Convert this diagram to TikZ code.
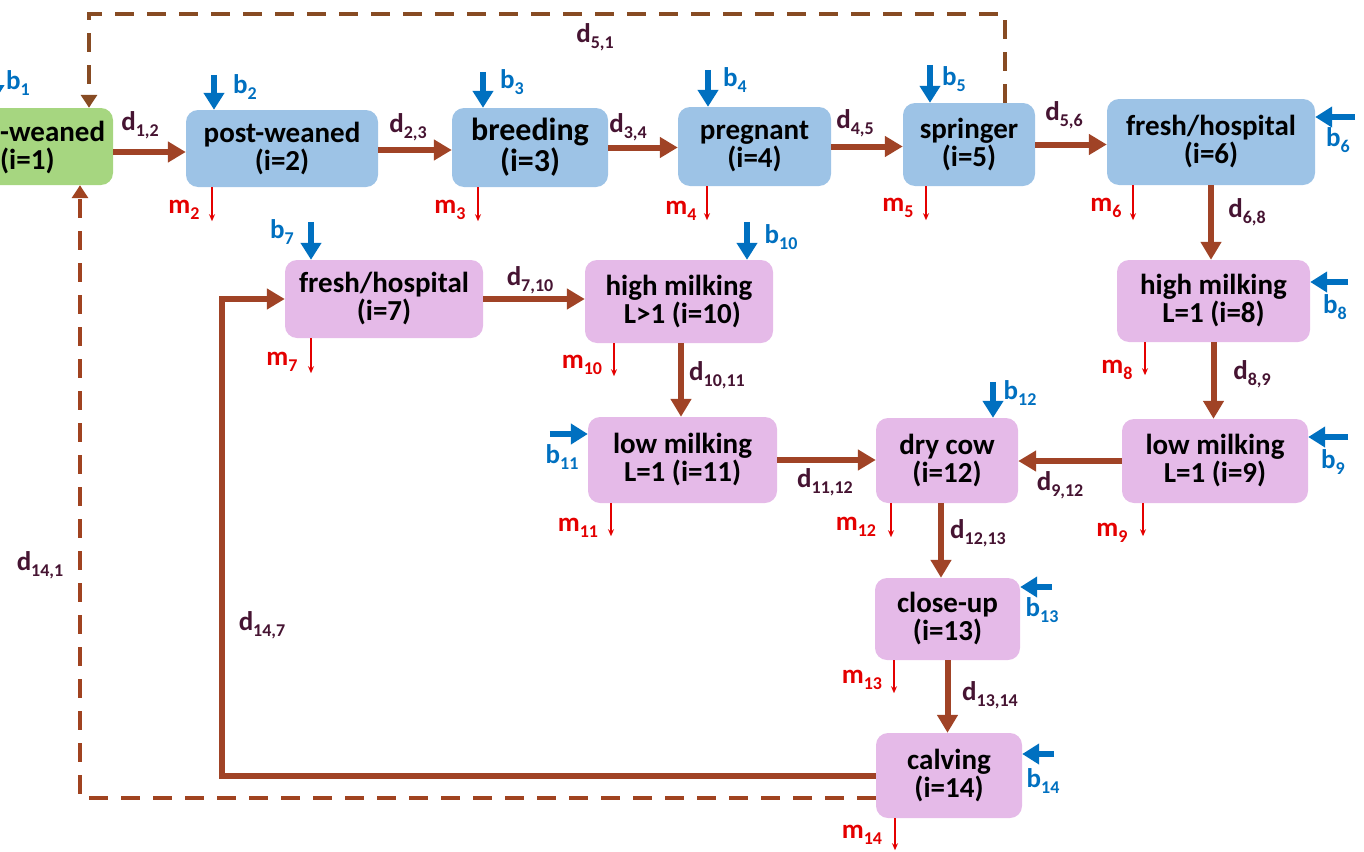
\documentclass[tikz,border=0pt]{standalone}
\usepackage{fontspec}
\setmainfont{Carlito}
\usetikzlibrary{arrows.meta}
\definecolor{bluebox}{RGB}{157,195,230}
\definecolor{pinkbox}{RGB}{229,186,232}
\definecolor{greenbox}{RGB}{166,214,128}
\definecolor{brownarr}{RGB}{160,67,38}
\definecolor{dashtop}{RGB}{135,75,35}
\definecolor{dashbot}{RGB}{160,67,32}
\definecolor{dlab}{RGB}{70,20,50}
\definecolor{blab}{RGB}{0,112,192}
\definecolor{mlab}{RGB}{228,0,0}
\newcommand\sbs[2]{#1\raisebox{-6pt}{\fontsize{18}{18}\selectfont #2}}
\begin{document}
\begin{tikzpicture}[x=1pt,y=-1pt,
  box/.style={rounded corners=12pt, inner sep=0pt, align=center, text=black,
    font=\fontsize{29}{28}\selectfont\bfseries},
  bbox/.style={box, fill=bluebox},
  pbox/.style={box, fill=pinkbox},
  gbox/.style={box, fill=greenbox},
  flow/.style={draw=brownarr, line width=6pt, -{Triangle[length=18pt,width=20pt]}},
  dashA/.style={draw=dashtop, line width=4.5pt, dash pattern=on 19pt off 13pt, -{Triangle[length=13pt,width=16pt]}},
  dashB/.style={draw=dashbot, line width=4.5pt, dash pattern=on 19pt off 13pt, -{Triangle[length=13pt,width=16pt]}},
  barrow/.style={draw=blab, line width=6pt, -{Triangle[length=17pt,width=20pt]}},
  marrow/.style={draw=mlab, line width=1.8pt, -{Stealth[length=7pt,width=6pt]}},
  lab/.style={inner sep=0pt, font=\fontsize{27}{30}\selectfont\bfseries},
  dl/.style={lab, text=dlab},
  bl/.style={lab, text=blab},
  ml/.style={lab, text=mlab}]
\useasboundingbox (0,0) rectangle (1364,851);

% boxes
\node[gbox, minimum width=191pt, minimum height=77pt] (n1) at (17.5,146.5) {};
\node[box, anchor=west, fill=none] (t1a) at (0,131) {-weaned};
\node[box, anchor=west, fill=none] (t1b) at (0,161) {(i=1)};
\node[bbox, minimum width=192pt, minimum height=77pt] (n2) at (282,148.5) {post-weaned\\(i=2)};
\node[bbox, minimum width=156pt, minimum height=79pt, font=\fontsize{32}{31}\selectfont\bfseries] (n3) at (530,147.5) {breeding\\(i=3)};
\node[bbox, minimum width=153pt, minimum height=79pt] (n4) at (754.5,146.5) {pregnant\\(i=4)};
\node[bbox, minimum width=132pt, minimum height=83pt] (n5) at (969,144.5) {springer\\(i=5)};
\node[bbox, minimum width=208pt, minimum height=86pt] (n6) at (1211,142) {fresh/hospital\\(i=6)};
\node[pbox, minimum width=198pt, minimum height=78pt] (n7) at (384,299) {fresh/hospital\\(i=7)};
\node[pbox, minimum width=188pt, minimum height=83pt] (n10) at (679,301.5) {high milking\\\ L\textgreater1 (i=10)};
\node[pbox, minimum width=193pt, minimum height=82pt] (n8) at (1213.5,301) {high milking\\L=1 (i=8)};
\node[pbox, minimum width=189pt, minimum height=86pt] (n11) at (682.5,460) {low milking\\L=1 (i=11)};
\node[pbox, minimum width=142pt, minimum height=85pt] (n12) at (947,460.5) {dry cow\\(i=12)};
\node[pbox, minimum width=186pt, minimum height=84pt] (n9) at (1215,461) {low milking\\L=1 (i=9)};
\node[pbox, minimum width=145pt, minimum height=82pt] (n13) at (947.5,619) {close-up\\(i=13)};
\node[pbox, minimum width=146pt, minimum height=85pt] (n14) at (949,775.5) {calving\\(i=14)};

% main flows
\draw[flow] ([yshift=-5.5pt]n1.east) coordinate (s12) -- (s12 -| n2.west);
\draw[flow] ([yshift=-1.5pt]n2.east) coordinate (s23) -- (s23 -| n3.west);
\draw[flow] (n3.east) -- (n3.east -| n4.west);
\draw[flow] (n4.east) -- (n4.east -| n5.west);
\draw[flow] (n5.east) -- (n5.east -| n6.west);
\draw[flow] (n6.south) -- (n6.south |- n8.north);
\draw[flow] (n8.south) -- (n8.south |- n9.north);
\draw[flow] (n9.west) -- (n9.west -| n12.east);
\draw[flow] (n7.east) -- (n7.east -| n10.west);
\draw[flow] ([xshift=2pt]n10.south) coordinate (s1011) -- (s1011 |- n11.north);
\draw[flow] (n11.east) -- (n11.east -| n12.west);
\draw[flow] ([xshift=-6pt]n12.south) coordinate (s1213) -- (s1213 |- n13.north);
\draw[flow] (n13.south) -- (n13.south |- n14.north);
\coordinate (k147) at (222,776);
\draw[flow] (n14.west) -- (n14.west -| k147) |- (n7.west);
\coordinate (k141) at (80,798);
\draw[dashB] (n14.west |- k141) -- (k141) -- (k141 |- n1.south);
\coordinate (k51a) at (1005,14);
\coordinate (k51b) at (89,14);
\draw[dashA] (k51a |- n5.north) -- (k51a) -- (k51b) -- (k51b |- n1.north);

% b inflows
\coordinate (b1s) at (-6,62);
\draw[barrow] (b1s) -- ++(0,40);
\draw[barrow] ([xshift=-68pt,yshift=35pt]n2.north) -- ([xshift=-68pt]n2.north);
\draw[barrow] ([xshift=-47pt,yshift=36pt]n3.north) -- ([xshift=-47pt]n3.north);
\draw[barrow] ([xshift=-46.5pt,yshift=37pt]n4.north) -- ([xshift=-46.5pt]n4.north);
\draw[barrow] ([xshift=-39pt,yshift=38pt]n5.north) -- ([xshift=-39pt]n5.north);
\draw[barrow] ([xshift=40pt,yshift=25pt]n6.east) -- ([yshift=25pt]n6.east);
\draw[barrow] ([xshift=-73pt,yshift=38pt]n7.north) -- ([xshift=-73pt]n7.north);
\draw[barrow] ([xshift=38pt,yshift=19pt]n8.east) -- ([yshift=19pt]n8.east);
\draw[barrow] ([xshift=40pt,yshift=24pt]n9.east) -- ([yshift=24pt]n9.east);
\draw[barrow] ([xshift=68pt,yshift=38pt]n10.north) -- ([xshift=68pt]n10.north);
\draw[barrow] ([xshift=-38pt,yshift=26pt]n11.west) -- ([yshift=26pt]n11.west);
\draw[barrow] ([xshift=46pt,yshift=36pt]n12.north) -- ([xshift=46pt]n12.north);
\draw[barrow] ([xshift=32pt,yshift=32pt]n13.east) -- ([yshift=32pt]n13.east);
\draw[barrow] ([xshift=32pt,yshift=21.5pt]n14.east) -- ([yshift=21.5pt]n14.east);

% m outflows
\draw[marrow] ([xshift=-70pt]n2.south) -- ++(0,34);
\draw[marrow] ([xshift=-52pt]n3.south) -- ++(0,34);
\draw[marrow] ([xshift=-47.5pt]n4.south) -- ++(0,34);
\draw[marrow] ([xshift=-43pt]n5.south) -- ++(0,34);
\draw[marrow] ([xshift=-78pt]n6.south) -- ++(0,35);
\draw[marrow] ([xshift=-73pt]n7.south) -- ++(0,35);
\draw[marrow] ([xshift=-68.5pt]n8.south) -- ++(0,33);
\draw[marrow] ([xshift=-72pt]n9.south) -- ++(0,33);
\draw[marrow] ([xshift=-65pt]n10.south) -- ++(0,33);
\draw[marrow] ([xshift=-71.5pt]n11.south) -- ++(0,33);
\draw[marrow] ([xshift=-56pt]n12.south) -- ++(0,34);
\draw[marrow] ([xshift=-53.5pt]n13.south) -- ++(0,33);
\draw[marrow] ([xshift=-54pt]n14.south) -- ++(0,32);

% d labels
\node[dl] (l12) at (140,125) {\sbs{d}{1,2}};
\node[dl] (l23) at (408,127) {\sbs{d}{2,3}};
\node[dl] (l34) at (628,127) {\sbs{d}{3,4}};
\node[dl] (l45) at (855,123) {\sbs{d}{4,5}};
\node[dl] (l56) at (1064,115) {\sbs{d}{5,6}};
\node[dl] (l68) at (1247,212) {\sbs{d}{6,8}};
\node[dl] (l89) at (1252,374) {\sbs{d}{8,9}};
\node[dl] (l912) at (1060,485) {\sbs{d}{9,12}};
\node[dl] (l710) at (530,280) {\sbs{d}{7,10}};
\node[dl] (l1011) at (717,375) {\sbs{d}{10,11}};
\node[dl] (l1112) at (825,482) {\sbs{d}{11,12}};
\node[dl] (l1213) at (978,533) {\sbs{d}{12,13}};
\node[dl] (l1314) at (990,695) {\sbs{d}{13,14}};
\node[dl] (l141) at (40,565) {\sbs{d}{14,1}};
\node[dl] (l147) at (262,625) {\sbs{d}{14,7}};
\node[dl] (l51) at (595,37) {\sbs{d}{5,1}};

% b labels
\node[bl] (lb1) at (18,83) {\sbs{b}{1}};
\node[bl] (lb2) at (245,87) {\sbs{b}{2}};
\node[bl] (lb3) at (512,82) {\sbs{b}{3}};
\node[bl] (lb4) at (735,80) {\sbs{b}{4}};
\node[bl] (lb5) at (954,79) {\sbs{b}{5}};
\node[bl] (lb6) at (1338,140) {\sbs{b}{6}};
\node[bl] (lb7) at (282,232) {\sbs{b}{7}};
\node[bl] (lb8) at (1335,307) {\sbs{b}{8}};
\node[bl] (lb9) at (1333,462) {\sbs{b}{9}};
\node[bl] (lb10) at (781,237) {\sbs{b}{10}};
\node[bl] (lb11) at (562,457) {\sbs{b}{11}};
\node[bl] (lb12) at (1020,393) {\sbs{b}{12}};
\node[bl] (lb13) at (1042,610) {\sbs{b}{13}};
\node[bl] (lb14) at (1043,781) {\sbs{b}{14}};

% m labels
\node[ml] (lm2) at (184,210) {\sbs{m}{2}};
\node[ml] (lm3) at (450,210) {\sbs{m}{3}};
\node[ml] (lm4) at (681,211) {\sbs{m}{4}};
\node[ml] (lm5) at (898,208) {\sbs{m}{5}};
\node[ml] (lm6) at (1106,208) {\sbs{m}{6}};
\node[ml] (lm7) at (282,362) {\sbs{m}{7}};
\node[ml] (lm8) at (1117,370) {\sbs{m}{8}};
\node[ml] (lm9) at (1112,533) {\sbs{m}{9}};
\node[ml] (lm10) at (582,365) {\sbs{m}{10}};
\node[ml] (lm11) at (578,528) {\sbs{m}{11}};
\node[ml] (lm12) at (856,527) {\sbs{m}{12}};
\node[ml] (lm13) at (862,680) {\sbs{m}{13}};
\node[ml] (lm14) at (862,835) {\sbs{m}{14}};
\end{tikzpicture}
\end{document}
